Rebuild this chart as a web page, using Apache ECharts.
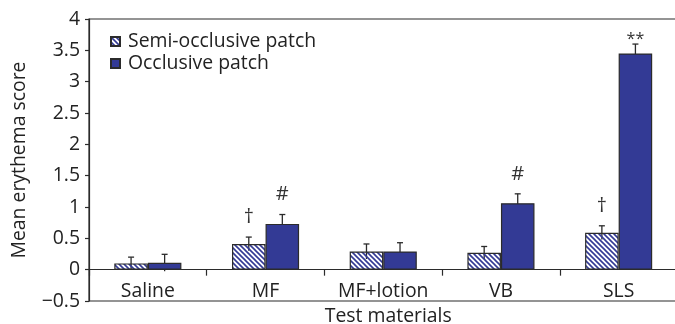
<!DOCTYPE html>
<html>
<head>
<meta charset="utf-8">
<script src="https://cdn.jsdelivr.net/npm/echarts@6/dist/echarts.min.js"></script>
<style>
html,body{margin:0;padding:0;background:#fff;}
#chart{width:675px;height:324px;}
</style>
</head>
<body>
<div id="chart"></div>
<script>
var categories = ['Saline', 'MF', 'MF+lotion', 'VB', 'SLS'];
var semiMean = [0.10, 0.41, 0.29, 0.27, 0.59];
var semiErr = [0.10, 0.11, 0.12, 0.10, 0.11];
var occMean = [0.11, 0.73, 0.29, 1.06, 3.45];
var occErr = [0.135, 0.15, 0.14, 0.15, 0.15];
var semiMarks = ['', '\u2020', '', '', '\u2020'];
var occMarks = ['', '#', '', '#', '**'];
var seriesNames = ['Semi-occlusive patch', 'Occlusive patch'];
var yMin = -0.5, yMax = 4, yStep = 0.5;
var xTitle = 'Test materials';
var yTitle = 'Mean erythema score';

var FONT = 'Open Sans';
var FS = 19.4;
var BLUE = '#333a95';
var DARK = '#2b2b2b';
var BAR_W = 0.285;

function makeHatch() {
  var s = 5;
  var c = document.createElement('canvas');
  c.width = s; c.height = s;
  var ctx = c.getContext('2d');
  ctx.clearRect(0, 0, s, s);
  ctx.strokeStyle = BLUE;
  ctx.lineWidth = 1.6;
  ctx.beginPath();
  ctx.moveTo(-1, -1); ctx.lineTo(s + 1, s + 1);
  ctx.moveTo(-1, s - 1); ctx.lineTo(1, s + 1);
  ctx.moveTo(s - 1, -1); ctx.lineTo(s + 1, 1);
  ctx.stroke();
  return c;
}
var hatch = makeHatch();

function errData(mean, err, marks) {
  return mean.map(function (m, i) { return [i, m, err[i], marks[i]]; });
}

function errRender(side) {
  return function (params, api) {
    var i = api.value(0);
    var m = api.value(1);
    var e = api.value(2);
    var mark = side < 0 ? semiMarks[i] : occMarks[i];
    var band = api.size([1, 0])[0];
    var c = api.coord([i, m]);
    var x = c[0] + side * band * BAR_W / 2;
    var top = api.coord([i, m + e])[1];
    var bot = api.coord([i, m - e])[1];
    var children = [
      { type: 'line', shape: { x1: x, y1: top, x2: x, y2: bot }, style: { stroke: DARK, lineWidth: 1.3 } },
      { type: 'line', shape: { x1: x - 3, y1: top, x2: x + 3, y2: top }, style: { stroke: DARK, lineWidth: 1.3 } }
    ];
    if (mark) {
      var star = mark === '**';
      children.push({
        type: 'text',
        style: {
          text: mark, x: x, y: top - (star ? -3 : 10),
          fill: '#333', font: (star ? 16 : 20) + 'px "' + FONT + '"',
          textAlign: 'center', textVerticalAlign: 'bottom'
        }
      });
    }
    return { type: 'group', children: children };
  };
}

var chart = echarts.init(document.getElementById('chart'), null, { renderer: 'canvas' });
chart.setOption({
  animation: false,
  textStyle: { fontFamily: FONT },
  grid: {
    left: 89, top: 19, bottom: 23, right: -2.5, containLabel: false, outerBoundsMode: 'none',
    show: true, borderColor: DARK, borderWidth: 1.2, backgroundColor: 'transparent'
  },
  legend: {
    left: 105, top: 27, orient: 'vertical', itemWidth: 9, itemHeight: 9, itemGap: 3,
    data: seriesNames,
    textStyle: { fontSize: FS, color: '#222', fontFamily: FONT, padding: [0, 0, 0, 3] },
    icon: 'rect'
  },
  xAxis: [
    {
      type: 'category', data: categories,
      axisLine: { onZero: true, lineStyle: { color: DARK, width: 1.2 } },
      axisTick: { show: true, length: 6, lineStyle: { color: DARK, width: 1.2 } },
      axisLabel: { show: false },
      z: 10
    },
    {
      type: 'category', data: categories, position: 'bottom',
      axisLine: { show: false, onZero: false },
      axisTick: { show: false },
      axisLabel: { fontSize: FS, color: '#222', inside: true, margin: 0 },
      name: xTitle, nameLocation: 'middle', nameGap: 4,
      nameTextStyle: { fontSize: FS, color: '#222', padding: [0, 0, 0, 10], verticalAlign: 'top' }
    }
  ],
  yAxis: {
    type: 'value', min: yMin, max: yMax, interval: yStep,
    splitLine: { show: false },
    axisLine: { show: true, onZero: false, lineStyle: { color: DARK, width: 1.2 } },
    axisTick: { show: true, length: 4, lineStyle: { color: DARK, width: 1.2 } },
    axisLabel: { fontSize: FS, color: '#222', margin: 9, formatter: function (v) { return String(v).replace('-', '\u2212'); } },
    name: yTitle, nameLocation: 'middle', nameGap: 60,
    nameTextStyle: { fontSize: FS, color: '#222' }
  },
  series: [
    {
      type: 'custom', data: errData(semiMean, semiErr, semiMarks), renderItem: errRender(-1), z: 1, silent: true
    },
    {
      type: 'custom', data: errData(occMean, occErr, occMarks), renderItem: errRender(1), z: 1, silent: true
    },
    {
      name: seriesNames[0], type: 'bar', data: semiMean, barWidth: (BAR_W * 100) + '%', barGap: '0%', z: 3,
      itemStyle: { color: { image: hatch, repeat: 'repeat' }, borderColor: DARK, borderWidth: 1.2 }
    },
    {
      name: seriesNames[1], type: 'bar', data: occMean, barWidth: (BAR_W * 100) + '%', barGap: '0%', z: 3,
      itemStyle: { color: BLUE, borderColor: DARK, borderWidth: 1.2 }
    }
  ]
});
</script>
</body>
</html>
